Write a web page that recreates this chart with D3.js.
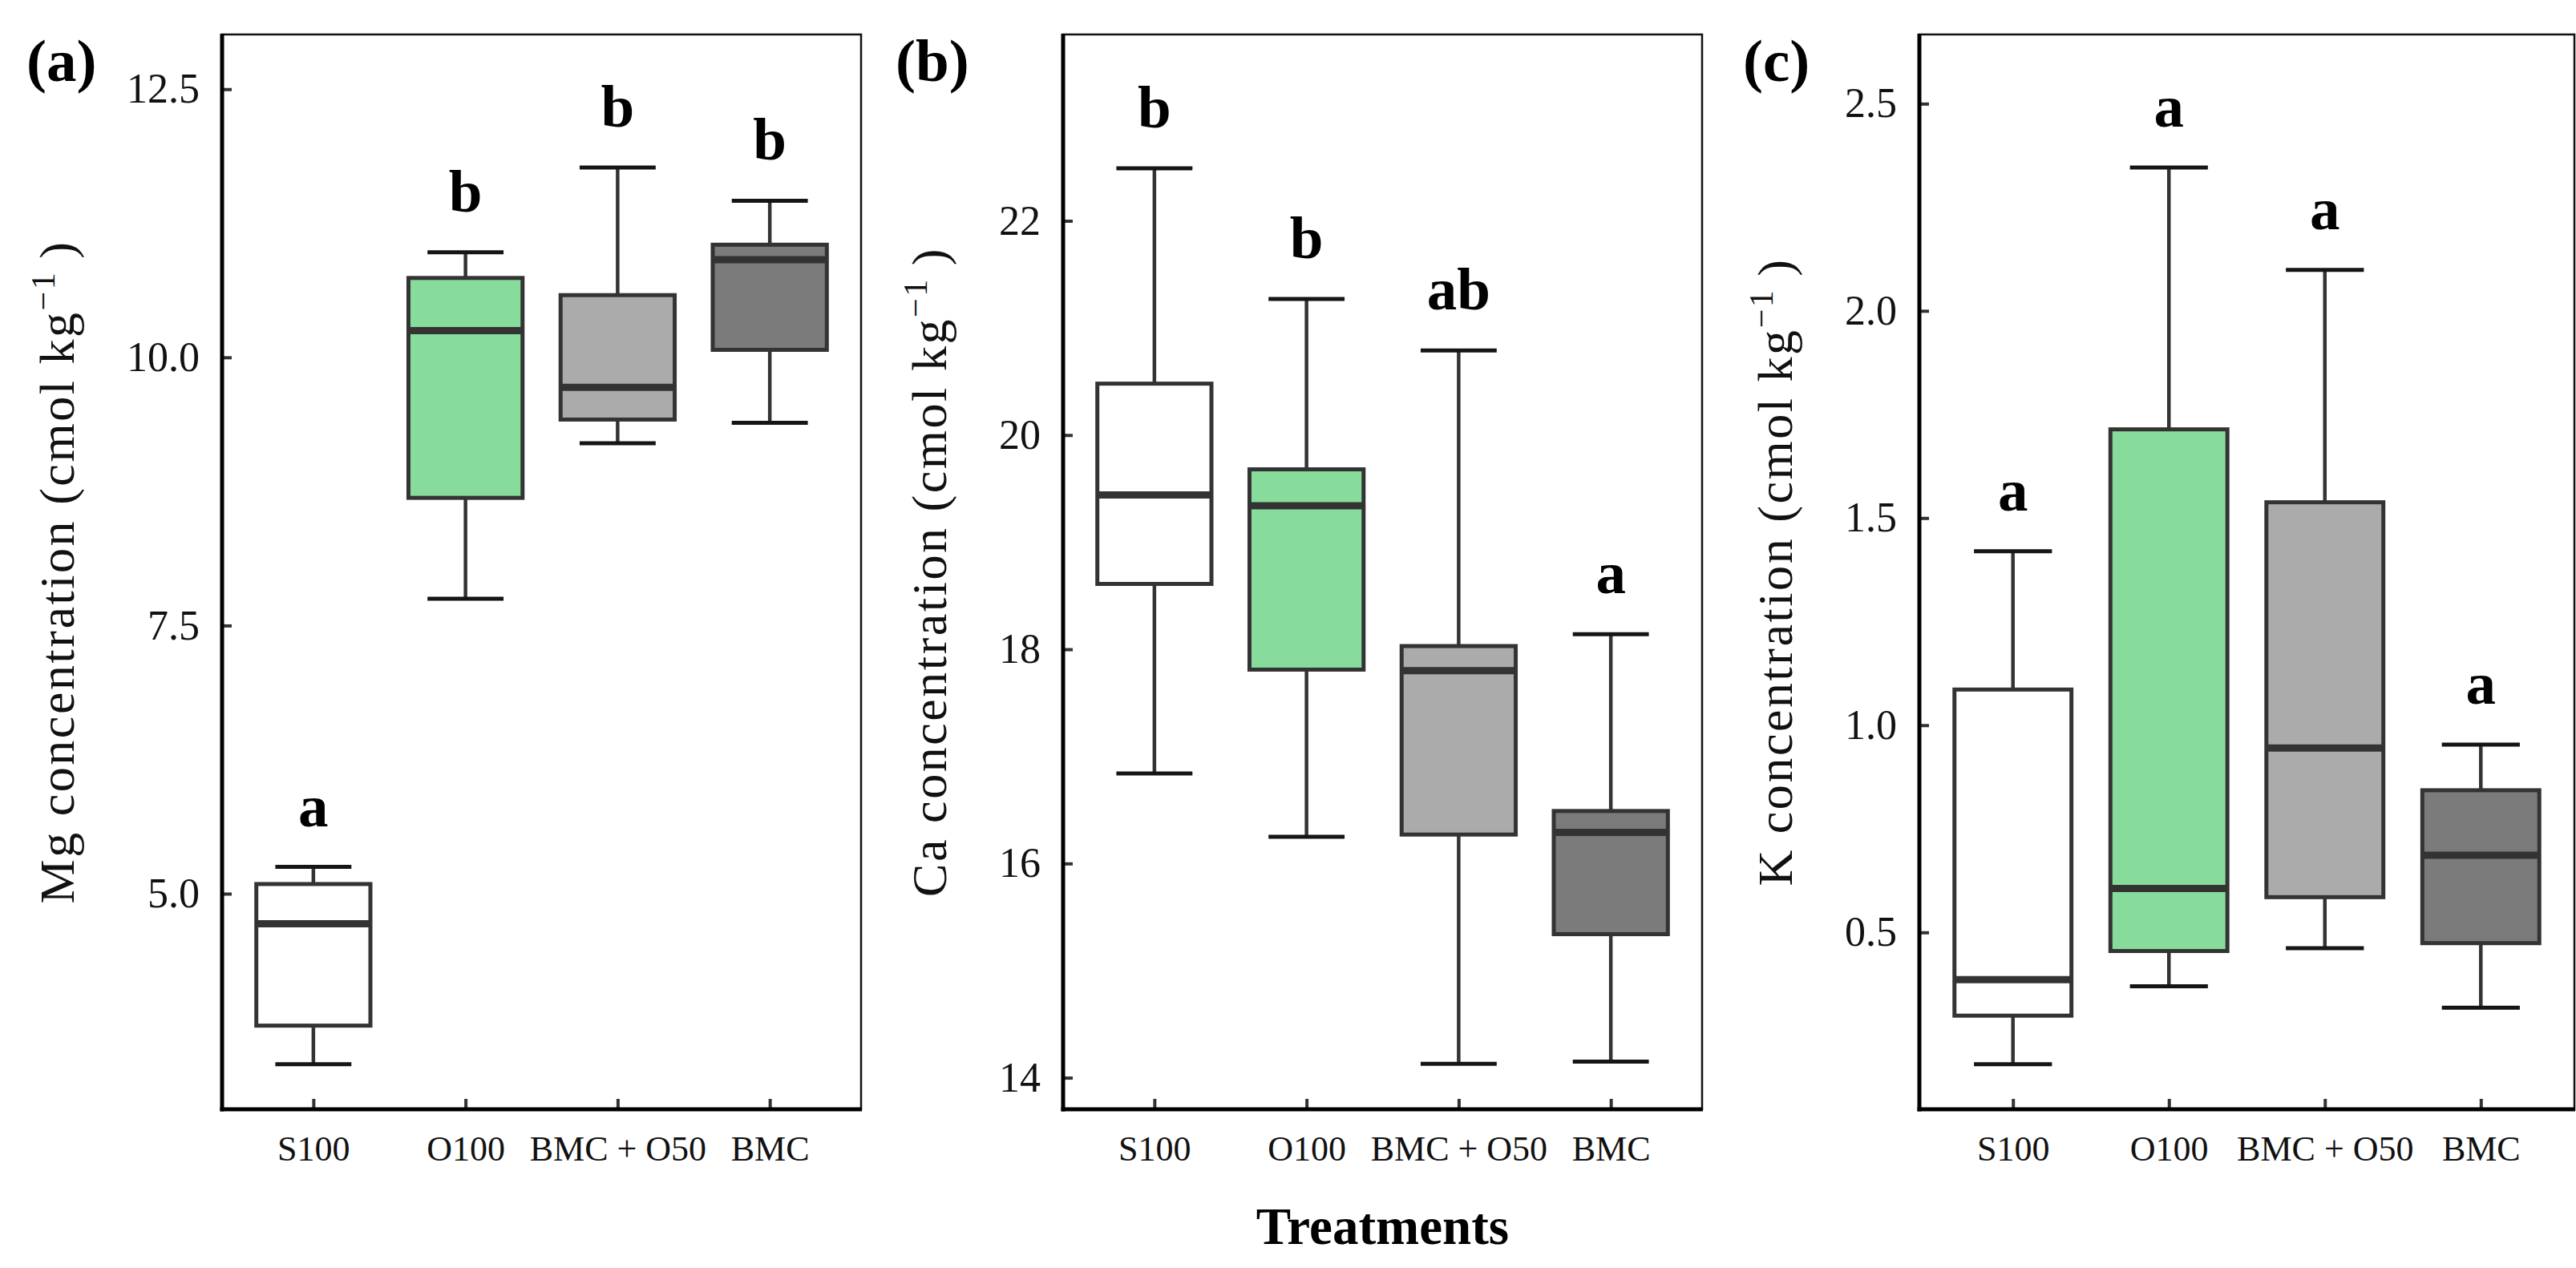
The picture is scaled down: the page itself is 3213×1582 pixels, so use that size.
<!DOCTYPE html>
<html>
<head>
<meta charset="utf-8">
<script src="https://cdn.jsdelivr.net/npm/d3@7"></script>
<style>
  body { margin: 0; background: #fff; }
  text { font-family: "Liberation Serif", "Times New Roman", serif; fill: #111; }
</style>
</head>
<body>
<script>
const categories = ["S100", "O100", "BMC + O50", "BMC"]
const fills = ["#ffffff", "#87dc9b", "#ababab", "#7b7b7b"]

// [lower whisker, Q1, median, Q3, upper whisker] per treatment
const mgStats = [
  [3.41, 3.77, 4.72, 5.09, 5.25],
  [7.75, 8.69, 10.25, 10.74, 10.98],
  [9.20, 9.42, 9.72, 10.58, 11.77],
  [9.39, 10.07, 10.91, 11.05, 11.46]
]
const caStats = [
  [16.84, 18.61, 19.44, 20.48, 22.49],
  [16.25, 17.81, 19.34, 19.68, 21.27],
  [14.13, 16.27, 17.80, 18.03, 20.79],
  [14.15, 15.34, 16.29, 16.49, 18.14]
]
const kStats = [
  [0.182, 0.299, 0.386, 1.086, 1.42],
  [0.37, 0.455, 0.606, 1.714, 2.346],
  [0.462, 0.585, 0.945, 1.538, 2.099],
  [0.318, 0.474, 0.686, 0.843, 0.953]
]
const mgLetters = ["a", "b", "b", "b"]
const caLetters = ["b", "b", "ab", "a"]
const kLetters = ["a", "a", "a", "a"]

const mgTicks = [5, 7.5, 10, 12.5]
const caTicks = [14, 16, 18, 20, 22]
const kTicks = [0.5, 1.0, 1.5, 2.0, 2.5]

const W = 3213, H = 1582
const plotTop = 43, plotBottom = 1384

const panels = [
  {tag: "(a)", tagX: 33, el: "Mg", stats: mgStats, letters: mgLetters, ticks: mgTicks,
   domain: [2.99, 13.01], fmt: ".1f", left: 277, right: 1074},
  {tag: "(b)", tagX: 1117, el: "Ca", stats: caStats, letters: caLetters, ticks: caTicks,
   domain: [13.705, 23.74], fmt: "d", left: 1326, right: 2123},
  {tag: "(c)", tagX: 2174, el: "K", stats: kStats, letters: kLetters, ticks: kTicks,
   domain: [0.073, 2.667], fmt: ".1f", left: 2394, right: 3211}
]

const svg = d3.select('body').append('svg')
    .attr('width', W)
    .attr('height', H)
    .style('background', '#fff')

let spacing = null

panels.forEach(p => {
    const x = d3.scalePoint()
        .domain(categories)
        .range([p.left, p.right])
        .padding(0.6)
    const y = d3.scaleLinear()
        .domain(p.domain)
        .range([plotBottom, plotTop])
    const step = x.step()
    const boxW = step * 0.75,
          capW = step * 0.5

    const g = svg.append('g')

    //boxes
    const box = g.selectAll('.box')
        .data(p.stats).enter()
        .append('g')
        .attr('class', 'box')
        .attr('transform', (d, i) => `translate(${x(categories[i])},0)`)

    box.append('line')
        .attr('y1', d => y(d[0]))
        .attr('y2', d => y(d[4]))
        .attr('stroke', '#333')
        .attr('stroke-width', 4.5)
    box.append('line')
        .attr('x1', -capW / 2).attr('x2', capW / 2)
        .attr('y1', d => y(d[4])).attr('y2', d => y(d[4]))
        .attr('stroke', '#151515')
        .attr('stroke-width', 5)
    box.append('line')
        .attr('x1', -capW / 2).attr('x2', capW / 2)
        .attr('y1', d => y(d[0])).attr('y2', d => y(d[0]))
        .attr('stroke', '#151515')
        .attr('stroke-width', 5)
    box.append('rect')
        .attr('x', -boxW / 2)
        .attr('width', boxW)
        .attr('y', d => y(d[3]))
        .attr('height', d => y(d[1]) - y(d[3]))
        .attr('fill', (d, i) => fills[i])
        .attr('stroke', '#333')
        .attr('stroke-width', 5)
    box.append('line')
        .attr('x1', -boxW / 2).attr('x2', boxW / 2)
        .attr('y1', d => y(d[2])).attr('y2', d => y(d[2]))
        .attr('stroke', '#333')
        .attr('stroke-width', 9)

    //letters
    box.append('text')
        .attr('y', d => y(d[4]) - 51)
        .attr('text-anchor', 'middle')
        .style('font-size', '75px')
        .style('font-weight', 'bold')
        .style('fill', '#000')
        .text((d, i) => p.letters[i])

    //frame
    g.append('rect')
        .attr('x', p.left).attr('y', plotTop)
        .attr('width', p.right - p.left)
        .attr('height', plotBottom - plotTop)
        .attr('fill', 'none')
        .attr('stroke', '#111')
        .attr('stroke-width', 2.5)

    //y axis
    const yAxis = g.append('g')
        .attr('transform', `translate(${p.left},0)`)
        .call(d3.axisLeft(y)
            .tickValues(p.ticks)
            .tickFormat(d3.format(p.fmt))
            .tickSizeInner(-12)
            .tickSizeOuter(0)
            .tickPadding(28))
    yAxis.select('.domain').remove()
    yAxis.selectAll('line').attr('stroke', '#333').attr('stroke-width', 4)
    yAxis.selectAll('text')
        .style('font-size', '52px')
        .style('font-family', '"Liberation Serif", serif')
        .attr('fill', '#111')

    //x axis
    const xAxis = g.append('g')
        .attr('transform', `translate(0,${plotBottom})`)
        .call(d3.axisBottom(x)
            .tickSizeInner(-13)
            .tickSizeOuter(0)
            .tickPadding(33))
    xAxis.select('.domain').remove()
    xAxis.selectAll('line').attr('stroke', '#333').attr('stroke-width', 4)
    xAxis.selectAll('text')
        .style('font-size', '44px')
        .style('font-family', '"Liberation Serif", serif')
        .attr('fill', '#111')

    g.append('line')
        .attr('x1', p.left).attr('x2', p.left)
        .attr('y1', plotTop - 1).attr('y2', plotBottom + 2.5)
        .attr('stroke', '#000').attr('stroke-width', 5)
    g.append('line')
        .attr('x1', p.left - 2.5).attr('x2', p.right + 1)
        .attr('y1', plotBottom).attr('y2', plotBottom)
        .attr('stroke', '#000').attr('stroke-width', 5)

    //y title
    let labelLeft = d3.min(yAxis.selectAll('text').nodes(), n => n.getBBox().x) + p.left
    let cy = (plotTop + plotBottom) / 2
    const title = g.append('text')
        .attr('transform', `translate(${labelLeft - 66},${cy}) rotate(-90)`)
        .attr('text-anchor', 'middle')
        .style('font-size', '62px')
    title.append('tspan').text(`${p.el} concentration (cmol kg`)
    title.append('tspan').attr('dy', -24).style('font-size', '42px').text('\u2212' + '1')
    title.append('tspan').attr('dy', 24).text('\u2009)')
    if (spacing === null) {
        let len = title.node().getComputedTextLength()
        let n = title.text().length
        spacing = Math.max(0, (828 - len) / n)
    }
    title.style('letter-spacing', spacing + 'px')

    //panel tag
    svg.append('text')
        .attr('x', p.tagX)
        .attr('y', 101)
        .style('font-size', '75px')
        .style('font-weight', 'bold')
        .style('fill', '#000')
        .text(p.tag)
})

svg.append('text')
    .attr('x', (panels[1].left + panels[1].right) / 2)
    .attr('y', 1552)
    .attr('text-anchor', 'middle')
    .style('font-size', '65px')
    .style('font-weight', 'bold')
    .style('fill', '#000')
    .text('Treatments')
</script>
</body>
</html>
